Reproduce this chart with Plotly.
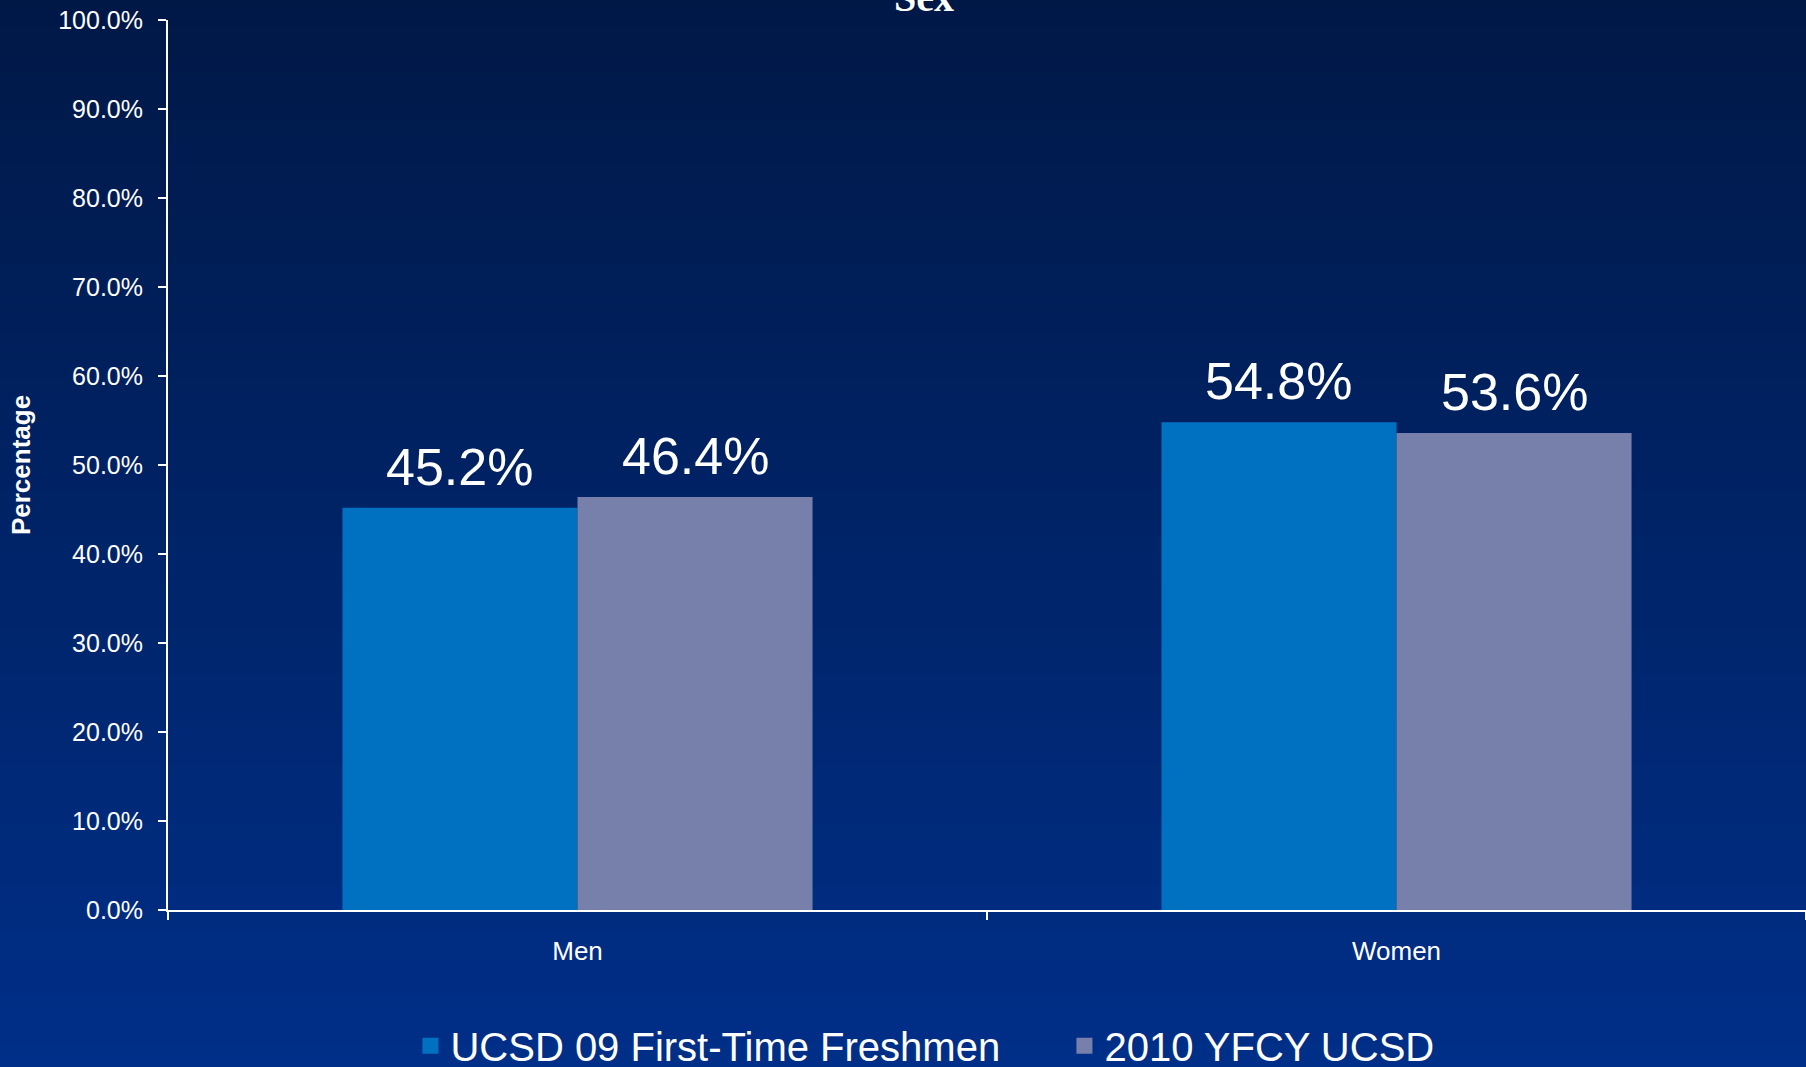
import base64, struct, zlib
import plotly.graph_objects as go

categories = ["Men", "Women"]
series_names = ["UCSD 09 First-Time Freshmen", "2010 YFCY UCSD"]
ucsd09 = [0.452, 0.548]
yfcy2010 = [0.464, 0.536]
bar_colors = ["#0070C0", "#7780AB"]

W, H = 1806, 1067
ML, MR, MT, MB = 168, 0, 20, 157
PW, PH = W - ML - MR, H - MT - MB
BARGAP = 0.426

def gradient_png(h, top, bottom):
    raw = b""
    for i in range(h):
        t = i / (h - 1)
        c = bytes(int(round(top[k] + (bottom[k] - top[k]) * t)) for k in range(3))
        raw += b"\x00" + c
    def chunk(tag, data):
        return struct.pack(">I", len(data)) + tag + data + struct.pack(">I", zlib.crc32(tag + data) & 0xffffffff)
    png = b"\x89PNG\r\n\x1a\n" + chunk(b"IHDR", struct.pack(">IIBBBBB", 1, h, 8, 2, 0, 0, 0))
    png += chunk(b"IDAT", zlib.compress(raw)) + chunk(b"IEND", b"")
    return "data:image/png;base64," + base64.b64encode(png).decode()

bg = gradient_png(256, (0, 24, 70), (0, 47, 137))

FONT = "Arial, Liberation Sans, sans-serif"

fig = go.Figure()
series = [ucsd09, yfcy2010]
n = len(series)
bar_px = PW / len(categories) * (1 - BARGAP) / n
annotations = []
for i, (name, vals, col) in enumerate(zip(series_names, series, bar_colors)):
    fig.add_trace(go.Bar(
        x=categories, y=vals, name=name, marker=dict(color=col, line=dict(width=0)),
        showlegend=False, hoverinfo="x+y",
    ))
    # legend swatch (no data points)
    fig.add_trace(go.Scatter(
        x=[None], y=[None], mode="markers", name=name,
        marker=dict(symbol="square", size=16, color=col, line=dict(width=0)),
    ))
    shift = (i - (n - 1) / 2) * bar_px
    for c, v in zip(categories, vals):
        annotations.append(dict(
            x=c, y=v, xref="x", yref="y", text=f"{v*100:.1f}%", showarrow=False,
            xanchor="center", yanchor="bottom", xshift=shift, yshift=10,
            font=dict(family=FONT, size=52, color="white"),
        ))

annotations.append(dict(text="<b>Sex</b>", xref="paper", yref="paper", x=(924 - ML) / PW, y=1,
                        xanchor="center", yanchor="bottom", yshift=-2, showarrow=False,
                        font=dict(family="Liberation Serif, Times New Roman, serif", size=40, color="white")))

fig.update_layout(
    width=W, height=H,
    margin=dict(l=ML, r=MR, t=MT, b=MB, autoexpand=False),
    paper_bgcolor="#001848", plot_bgcolor="rgba(0,0,0,0)",
    barmode="group", bargap=BARGAP, bargroupgap=0,
    font=dict(family=FONT, color="white"),
    images=[dict(source=bg, xref="paper", yref="paper",
                 x=-ML / PW, y=1 + MT / PH, sizex=W / PW, sizey=H / PH,
                 sizing="stretch", layer="below", xanchor="left", yanchor="top")],
    legend=dict(orientation="h", x=0.148, y=-0.116, xanchor="left", yanchor="top",
                font=dict(family=FONT, size=40, color="white"), itemsizing="trace",
                bgcolor="rgba(0,0,0,0)", entrywidth=609, entrywidthmode="pixels"),
    annotations=annotations,
)
fig.update_yaxes(
    range=[0, 1], dtick=0.1, tickformat=".1%", showgrid=False, zeroline=False,
    showline=True, linecolor="white", linewidth=2, ticks="outside", ticklen=8, tickwidth=2,
    tickcolor="white", tickfont=dict(family=FONT, size=25, color="white"), ticklabelstandoff=10,
    title=dict(text="<b>Percentage</b>", font=dict(family=FONT, size=26, color="white"), standoff=20),
    automargin=False,
)
fig.update_xaxes(
    showgrid=False, showline=True, linecolor="white", linewidth=2, ticks="outside",
    tickson="boundaries", ticklen=8, tickwidth=2, tickcolor="white",
    tickfont=dict(family=FONT, size=26, color="white"), ticklabelstandoff=17,
    automargin=False, range=[-0.5, 1.5],
)
fig.write_html("out.html", config={"displayModeBar": False})

with open("out.html", encoding="utf-8") as f:
    html = f.read()
html = html.replace("<head>", "<head><style>html,body{margin:0;padding:0;overflow:hidden;}</style>", 1)
with open("out.html", "w", encoding="utf-8") as f:
    f.write(html)
